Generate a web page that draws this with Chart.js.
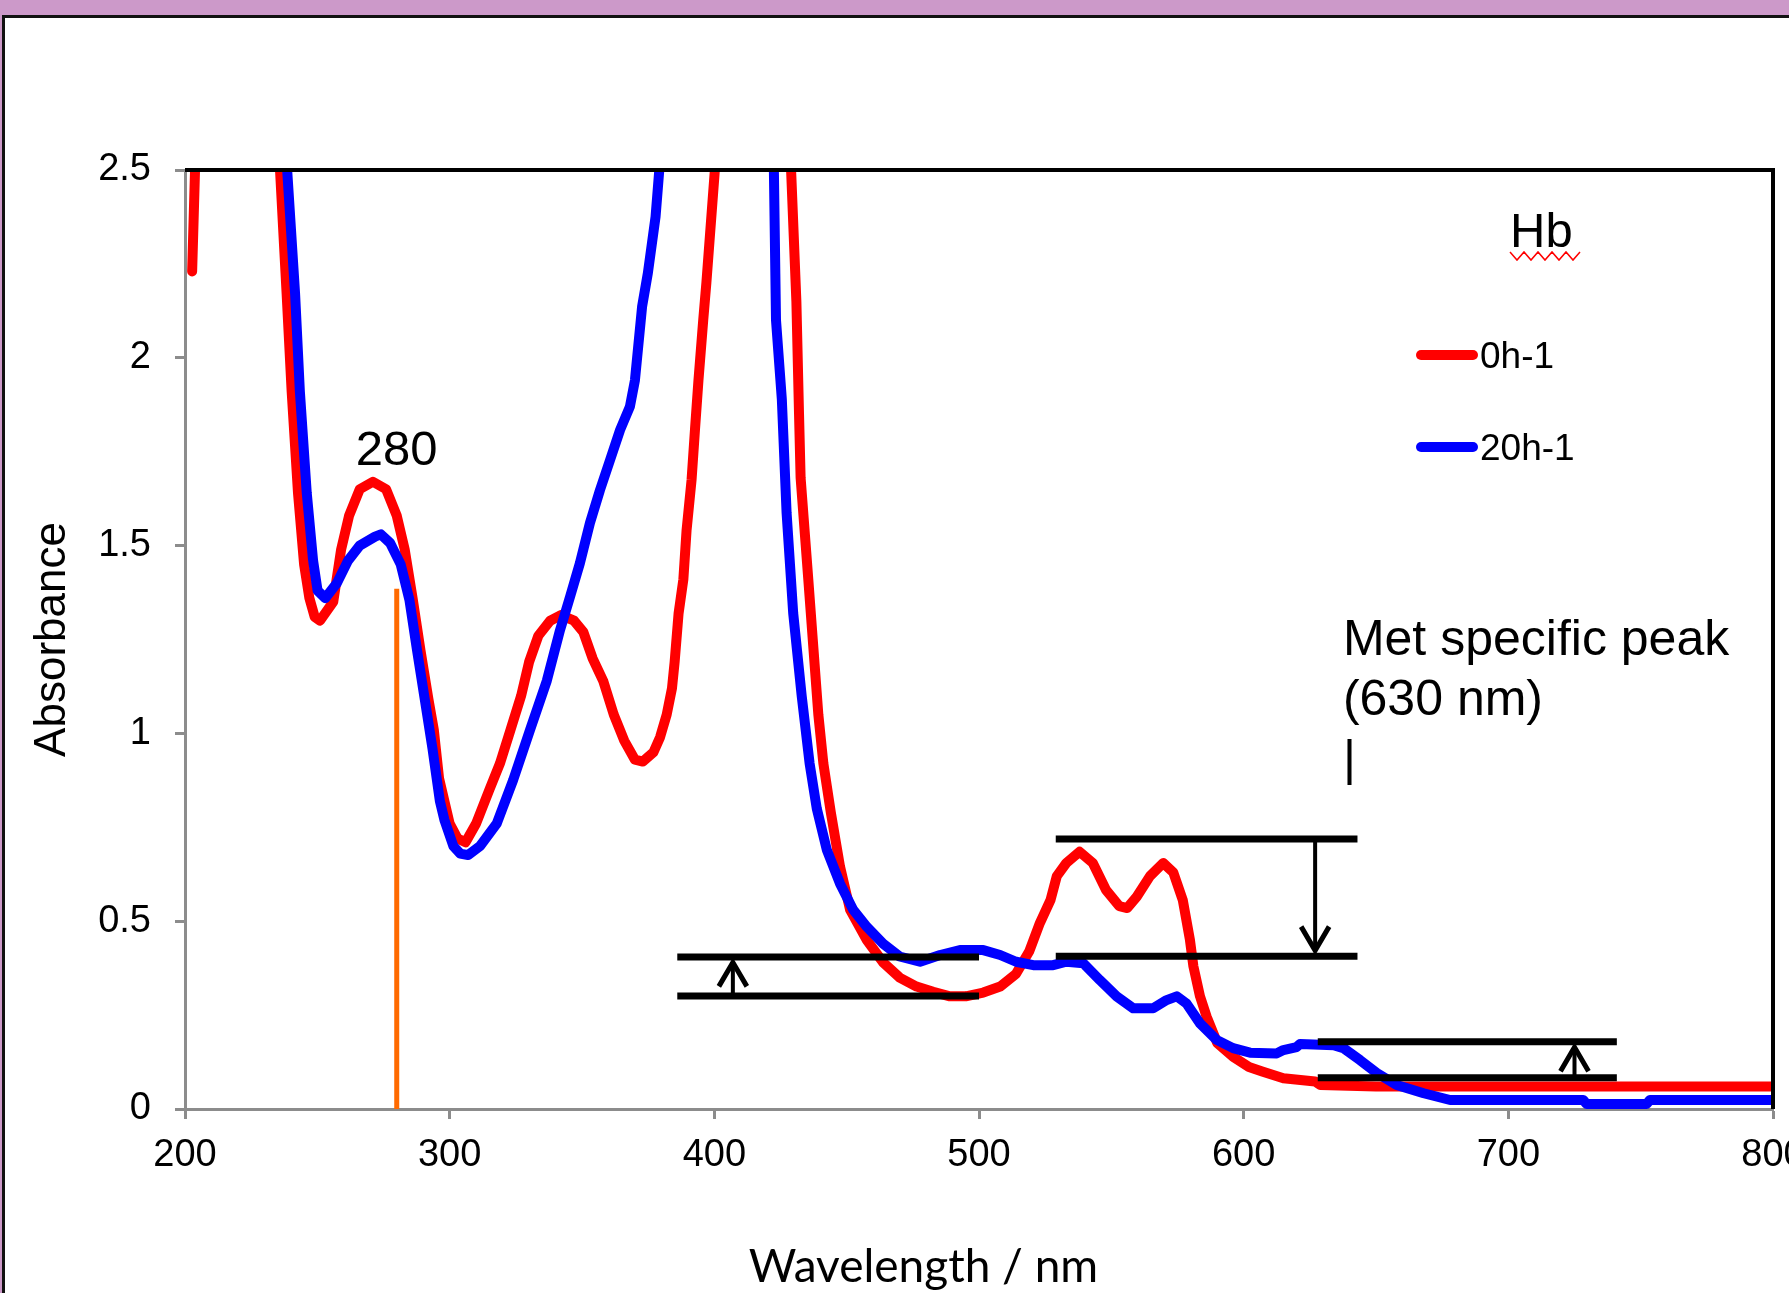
<!DOCTYPE html>
<html>
<head>
<meta charset="utf-8">
<script src="https://cdn.jsdelivr.net/npm/chart.js@4.4.1/dist/chart.umd.min.js"></script>
<style>
  html, body { margin: 0; padding: 0; overflow: hidden; background: #fff; }
  #quadro { width: 1789px; height: 1293px; overflow: hidden; }
</style>
</head>
<body>
<div id="quadro"><canvas id="graficoHb" width="1840" height="1293"></canvas></div>
<script>
// espectro 0h-1: [comprimento de onda (nm), absorbancia]
const espectro0h = [
  [202.7, 2.23], [204.6, 2.7], [234, 2.7], [235.9, 2.5], [238.4, 2.17], [240.3, 1.91],
  [242.7, 1.64], [245, 1.45], [247, 1.36], [249, 1.31], [251, 1.30], [253, 1.32],
  [256, 1.35], [259, 1.49], [262, 1.58], [266, 1.65], [271, 1.67], [276, 1.65],
  [280, 1.58], [283, 1.49], [286, 1.36], [289, 1.22], [292, 1.09], [294, 1.01],
  [296, 0.88], [300, 0.76], [303, 0.72], [306, 0.71], [310, 0.76], [315, 0.85],
  [319, 0.92], [323, 1.01], [327, 1.10], [330, 1.19], [333.5, 1.26], [338, 1.30],
  [342, 1.315], [347, 1.30], [350.5, 1.27], [354, 1.20], [358, 1.14], [362, 1.05],
  [366, 0.98], [370, 0.93], [373, 0.925], [377, 0.95], [379.5, 0.99], [382, 1.05],
  [384, 1.12], [385, 1.19], [386.5, 1.32], [388.3, 1.41], [389.5, 1.54], [391.4, 1.675],
  [392.7, 1.81], [394, 1.94], [395.8, 2.10], [397, 2.20], [400.2, 2.5], [402, 2.7],
  [427, 2.7], [429, 2.5], [431, 2.15], [432, 1.85], [432.6, 1.68], [435.5, 1.41],
  [437.4, 1.23], [439.3, 1.05], [441.2, 0.92], [444, 0.79], [447.5, 0.645], [451.3, 0.53],
  [457.6, 0.45], [463.8, 0.39], [470, 0.35], [476.4, 0.326], [482.7, 0.312], [489, 0.30],
  [495, 0.30], [501.6, 0.31], [508, 0.326], [514, 0.36], [519, 0.42], [523, 0.495],
  [527, 0.556], [529.4, 0.62], [533, 0.655], [538, 0.685], [543, 0.655], [548, 0.583],
  [553, 0.54], [556, 0.535], [559.6, 0.565], [564.6, 0.62], [569.6, 0.655], [573.4, 0.63],
  [577, 0.556], [579.7, 0.45], [581, 0.38], [583.5, 0.30], [586, 0.246], [590, 0.176],
  [596, 0.139], [602, 0.112], [607, 0.10], [615, 0.082], [627, 0.073], [629, 0.064],
  [650, 0.06], [700, 0.06], [800, 0.06]
];

// espectro 20h-1
const espectro20h = [
  [236.5, 2.7], [238.6, 2.5], [241.6, 2.17], [243.4, 1.91], [246, 1.64], [248.4, 1.46],
  [250.1, 1.38], [253, 1.36], [257.4, 1.40], [261.6, 1.46], [266, 1.50], [271.8, 1.524],
  [274, 1.53], [277.5, 1.507], [281.5, 1.45], [284.8, 1.355], [287.7, 1.22], [290.6, 1.09],
  [293.5, 0.96], [296.3, 0.82], [298, 0.77], [301.4, 0.70], [304, 0.68], [307, 0.676],
  [311.5, 0.70], [317.8, 0.76], [324, 0.876], [330.4, 1.01], [336.7, 1.14], [341.7, 1.275],
  [345.5, 1.364], [349.2, 1.453], [353, 1.56], [356.8, 1.648], [360.6, 1.728], [364.4, 1.808],
  [368.1, 1.87], [370, 1.94], [372.7, 2.136], [374.9, 2.226], [377.8, 2.376], [379.2, 2.5],
  [381, 2.7], [421, 2.7], [422.5, 2.5], [423.3, 2.1], [425.5, 1.89], [427.3, 1.587],
  [429.8, 1.32], [433, 1.10], [436, 0.92], [438.7, 0.80], [442.5, 0.69], [447.5, 0.60],
  [452.5, 0.53], [457.6, 0.485], [463.8, 0.44], [470, 0.406], [477.7, 0.392], [485.3, 0.41],
  [492.8, 0.423], [501.6, 0.423], [508, 0.41], [514, 0.392], [520.5, 0.383], [528, 0.383],
  [533, 0.392], [539.4, 0.388], [545.7, 0.343], [552, 0.30], [558.3, 0.268], [565.8, 0.268],
  [570.9, 0.29], [574.7, 0.30], [578.4, 0.281], [583.5, 0.228], [589.8, 0.184], [596, 0.162],
  [602.4, 0.15], [612.5, 0.148], [615, 0.157], [620, 0.165], [621.3, 0.173], [634, 0.17],
  [637.7, 0.162], [644, 0.13], [650.3, 0.096], [657.8, 0.064], [668, 0.042], [678, 0.024],
  [728.3, 0.024], [729.6, 0.013], [752.2, 0.013], [753.5, 0.024], [800, 0.024]
];

const ticksX = [200, 300, 400, 500, 600, 700, 800];
const ticksY = [0, 0.5, 1, 1.5, 2, 2.5];

// barras pretas de nivel: [inicio nm, fim nm, absorbancia]
const barrasNivel = [
  [386, 500, 0.405], [386, 500, 0.301],
  [529, 643, 0.719], [529, 643, 0.407],
  [628, 741, 0.179], [628, 741, 0.083]
];
// setas entre as barras: x, de, para
const setas = [
  { x: 407, de: 0.301, para: 0.405 },
  { x: 627, de: 0.719, para: 0.407 },
  { x: 725, de: 0.083, para: 0.179 }
];
// linha laranja em 280 nm
const linha280 = [[280, 0], [280, 1.385]];

const textoPico = ['Met specific peak', '(630 nm)', '|'];
const tituloX = 'Wavelength / nm';
const fonte = '"Liberation Sans", Arial, sans-serif';
const cinza = '#8c8c8c';

Chart.defaults.font.family = fonte;
Chart.defaults.color = '#000';

const moldura = {
  id: 'moldura',
  beforeDraw(chart) {
    const ctx = chart.ctx;
    ctx.save();
    ctx.fillStyle = '#fff';
    ctx.fillRect(0, 0, chart.width, chart.height);
    ctx.fillStyle = '#cc99c9';
    ctx.fillRect(0, 0, chart.width, 15);
    ctx.fillRect(0, 0, 2, chart.height);
    ctx.fillStyle = '#111';
    ctx.fillRect(2, 15, chart.width, 3);
    ctx.fillRect(2, 15, 3, chart.height);
    ctx.restore();
  }
};

const anotacoes = {
  id: 'anotacoes',
  afterDatasetsDraw(chart) {
    const { ctx, chartArea: a, scales: { x, y } } = chart;
    ctx.save();

    // borda preta superior e direita
    ctx.strokeStyle = '#000';
    ctx.lineWidth = 4;
    ctx.beginPath();
    ctx.moveTo(a.left, a.top);
    ctx.lineTo(a.right, a.top);
    ctx.lineTo(a.right, a.bottom);
    ctx.stroke();

    // setas
    setas.forEach(s => {
      const px = x.getPixelForValue(s.x);
      const y0 = y.getPixelForValue(s.de);
      const y1 = y.getPixelForValue(s.para);
      const dir = y1 < y0 ? 1 : -1;
      const ponta = y1 + dir * 3.5;
      ctx.lineWidth = 4;
      ctx.lineCap = 'butt';
      ctx.beginPath();
      ctx.moveTo(px, y0);
      ctx.lineTo(px, ponta + dir * 4);
      ctx.stroke();
      ctx.lineWidth = 5;
      ctx.lineJoin = 'miter';
      ctx.beginPath();
      ctx.moveTo(px - 14, ponta + dir * 26);
      ctx.lineTo(px, ponta + dir * 2);
      ctx.lineTo(px + 14, ponta + dir * 26);
      ctx.stroke();
    });

    ctx.fillStyle = '#000';
    ctx.textBaseline = 'alphabetic';

    // rotulo 280
    ctx.font = '49px ' + fonte;
    ctx.textAlign = 'center';
    ctx.fillText('280', x.getPixelForValue(280), y.getPixelForValue(1.715));

    // texto do pico Met
    ctx.font = '50px ' + fonte;
    ctx.textAlign = 'left';
    const xPico = x.getPixelForValue(637.5);
    const yPico = y.getPixelForValue(1.209);
    textoPico.forEach((t, i) => ctx.fillText(t, xPico, yPico + i * 60));

    // titulo da legenda "Hb" com sublinhado ondulado
    const hbX = a.right - 263, hbY = a.top + 77;
    ctx.font = '49px ' + fonte;
    ctx.fillText('Hb', hbX, hbY);
    ctx.strokeStyle = '#ff0000';
    ctx.lineWidth = 1.5;
    ctx.beginPath();
    for (let i = 0; i <= 10; i++) {
      const xx = hbX + i * 7, yy = hbY + 5 + (i % 2 ? 8 : 0);
      if (i === 0) ctx.moveTo(xx, yy); else ctx.lineTo(xx, yy);
    }
    ctx.stroke();

    // legenda
    ctx.font = '37px ' + fonte;
    chart.data.datasets.filter(d => d.naLegenda).forEach((d, i) => {
      const ly = a.top + 185 + i * 92;
      ctx.strokeStyle = d.borderColor;
      ctx.lineWidth = 10;
      ctx.lineCap = 'round';
      ctx.beginPath();
      ctx.moveTo(a.right - 352, ly);
      ctx.lineTo(a.right - 300, ly);
      ctx.stroke();
      ctx.fillText(d.label, a.right - 293, ly + 13);
    });

    // titulo do eixo x (deslocado para a esquerda como no original)
    ctx.font = '46px Lato, "Open Sans", sans-serif';
    ctx.textAlign = 'center';
    ctx.textBaseline = 'middle';
    ctx.fillText(tituloX, x.getPixelForValue(479), a.bottom + 158);
    ctx.restore();
  }
};

const paraPontos = lista => lista.map(([x, y]) => ({ x, y }));
const corte = { left: 0, top: 0, right: 0, bottom: 8 };

const conjuntos = [
  {
    label: '0h-1', naLegenda: true, data: paraPontos(espectro0h),
    borderColor: '#ff0000', borderWidth: 10, order: 2
  },
  {
    label: '20h-1', naLegenda: true, data: paraPontos(espectro20h),
    borderColor: '#0000ff', borderWidth: 10, order: 1
  },
  {
    label: '280', data: paraPontos(linha280),
    borderColor: '#ff6a00', borderWidth: 5, order: 3, borderCapStyle: 'butt'
  },
  ...barrasNivel.map(([ini, fim, v]) => ({
    label: 'nivel', data: [{ x: ini, y: v }, { x: fim, y: v }],
    borderColor: '#000', borderWidth: 7, order: 0, borderCapStyle: 'butt'
  }))
].map(d => Object.assign({
  pointRadius: 0, tension: 0, fill: false,
  borderCapStyle: 'round', borderJoinStyle: 'round', clip: corte
}, d));

new Chart(document.getElementById('graficoHb'), {
  type: 'line',
  data: { datasets: conjuntos },
  options: {
    responsive: false,
    animation: false,
    events: [],
    layout: { padding: { left: 0, top: 170, right: 67, bottom: 0 } },
    plugins: { legend: { display: false }, tooltip: { enabled: false } },
    scales: {
      x: {
        type: 'linear', min: 200, max: 800,
        afterBuildTicks: s => { s.ticks = ticksX.map(v => ({ value: v })); },
        ticks: { color: '#000', font: { size: 38 }, padding: 14, maxRotation: 0, callback: v => String(v) },
        grid: { drawOnChartArea: false, drawTicks: true, tickLength: 10, tickColor: cinza, tickWidth: 3 },
        border: { color: cinza, width: 3 },
        afterFit: s => { s.height = 184; }
      },
      y: {
        type: 'linear', min: 0, max: 2.5,
        afterBuildTicks: s => { s.ticks = ticksY.map(v => ({ value: v })); },
        ticks: { color: '#000', font: { size: 38 }, padding: 24, callback: v => String(v) },
        grid: { drawOnChartArea: false, drawTicks: true, tickLength: 10, tickColor: cinza, tickWidth: 3 },
        border: { color: cinza, width: 3 },
        title: {
          display: true, text: 'Absorbance', color: '#000',
          font: { size: 44, lineHeight: 1 },
          padding: { top: 31, bottom: 0 }
        },
        afterFit: s => { s.width = 185; }
      }
    }
  },
  plugins: [moldura, anotacoes]
});
</script>
</body>
</html>
